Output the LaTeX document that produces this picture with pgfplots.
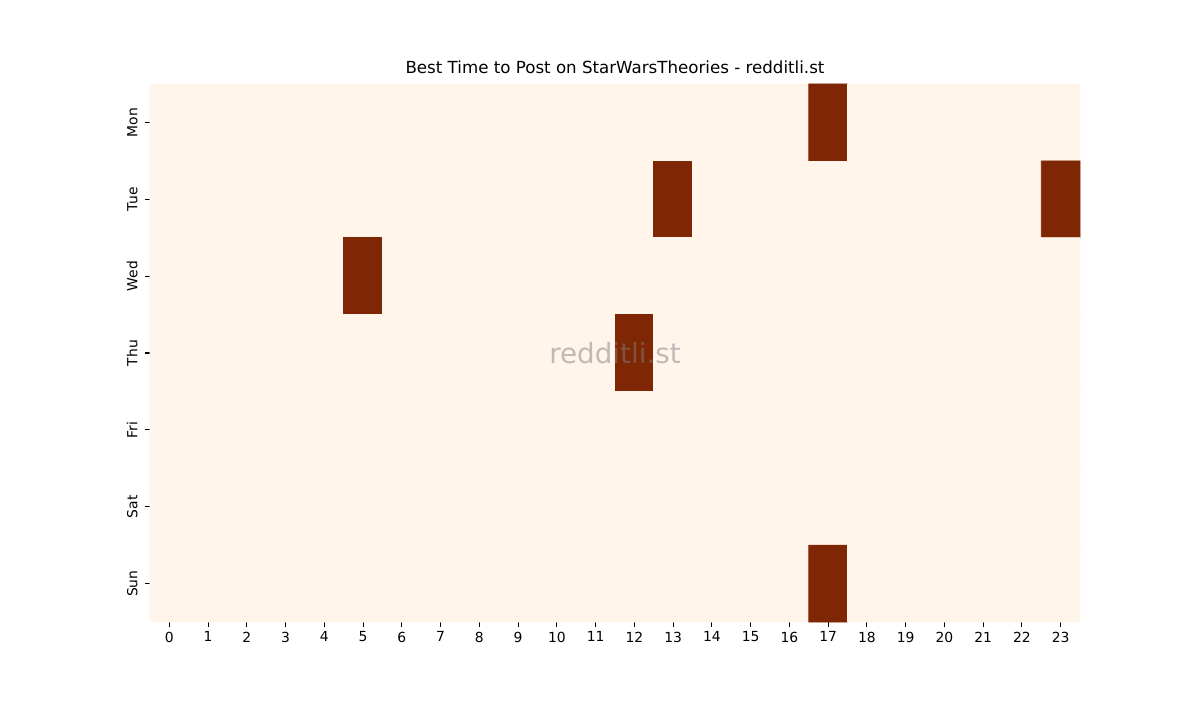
\documentclass[border=0pt]{standalone}
\usepackage{fontspec}
\setmainfont{DejaVu Sans}
\usepackage{pgfplots}
\pgfplotsset{compat=1.18}
\definecolor{lowc}{RGB}{255,245,235}
\definecolor{highc}{RGB}{127,39,4}
\begin{document}
\begin{tikzpicture}
\begin{axis}[
    name=ax,
    scale only axis,
    width=669.6pt, height=387.4pt,
    xmin=-0.5, xmax=23.5,
    ymin=-0.5, ymax=6.5,
    y dir=reverse,
    enlargelimits=false,
    axis line style={draw=none},
    tick align=outside,
    major tick length=3.5pt,
    tick style={black, line width=0.8pt},
    xtick={0,...,23},
    ytick={0,...,6},
    yticklabels={Mon,Tue,Wed,Thu,Fri,Sat,Sun},
    yticklabel style={rotate=90, anchor=south, yshift=2pt, font=\fontsize{10}{12}\selectfont},
    xticklabel style={font=\fontsize{10}{12}\selectfont},
    xtick pos=bottom, ytick pos=left,
    /pgf/number format/assume math mode=true,
    colormap={heat}{color=(lowc) color=(highc)},
    point meta min=0, point meta max=1,
    title={Best Time to Post on StarWarsTheories - redditli.st},
    title style={font=\fontsize{12}{14}\selectfont, yshift=-2pt},
    clip=false,
]
% 0 = quiet hour, 1 = best hour (rows Mon..Sun, columns 0..23)
\addplot[matrix plot*, mesh/cols=24, point meta=explicit] coordinates {
(0,0)[0] (1,0)[0] (2,0)[0] (3,0)[0] (4,0)[0] (5,0)[0] (6,0)[0] (7,0)[0] (8,0)[0] (9,0)[0] (10,0)[0] (11,0)[0] (12,0)[0] (13,0)[0] (14,0)[0] (15,0)[0] (16,0)[0] (17,0)[1] (18,0)[0] (19,0)[0] (20,0)[0] (21,0)[0] (22,0)[0] (23,0)[0]

(0,1)[0] (1,1)[0] (2,1)[0] (3,1)[0] (4,1)[0] (5,1)[0] (6,1)[0] (7,1)[0] (8,1)[0] (9,1)[0] (10,1)[0] (11,1)[0] (12,1)[0] (13,1)[1] (14,1)[0] (15,1)[0] (16,1)[0] (17,1)[0] (18,1)[0] (19,1)[0] (20,1)[0] (21,1)[0] (22,1)[0] (23,1)[1]

(0,2)[0] (1,2)[0] (2,2)[0] (3,2)[0] (4,2)[0] (5,2)[1] (6,2)[0] (7,2)[0] (8,2)[0] (9,2)[0] (10,2)[0] (11,2)[0] (12,2)[0] (13,2)[0] (14,2)[0] (15,2)[0] (16,2)[0] (17,2)[0] (18,2)[0] (19,2)[0] (20,2)[0] (21,2)[0] (22,2)[0] (23,2)[0]

(0,3)[0] (1,3)[0] (2,3)[0] (3,3)[0] (4,3)[0] (5,3)[0] (6,3)[0] (7,3)[0] (8,3)[0] (9,3)[0] (10,3)[0] (11,3)[0] (12,3)[1] (13,3)[0] (14,3)[0] (15,3)[0] (16,3)[0] (17,3)[0] (18,3)[0] (19,3)[0] (20,3)[0] (21,3)[0] (22,3)[0] (23,3)[0]

(0,4)[0] (1,4)[0] (2,4)[0] (3,4)[0] (4,4)[0] (5,4)[0] (6,4)[0] (7,4)[0] (8,4)[0] (9,4)[0] (10,4)[0] (11,4)[0] (12,4)[0] (13,4)[0] (14,4)[0] (15,4)[0] (16,4)[0] (17,4)[0] (18,4)[0] (19,4)[0] (20,4)[0] (21,4)[0] (22,4)[0] (23,4)[0]

(0,5)[0] (1,5)[0] (2,5)[0] (3,5)[0] (4,5)[0] (5,5)[0] (6,5)[0] (7,5)[0] (8,5)[0] (9,5)[0] (10,5)[0] (11,5)[0] (12,5)[0] (13,5)[0] (14,5)[0] (15,5)[0] (16,5)[0] (17,5)[0] (18,5)[0] (19,5)[0] (20,5)[0] (21,5)[0] (22,5)[0] (23,5)[0]

(0,6)[0] (1,6)[0] (2,6)[0] (3,6)[0] (4,6)[0] (5,6)[0] (6,6)[0] (7,6)[0] (8,6)[0] (9,6)[0] (10,6)[0] (11,6)[0] (12,6)[0] (13,6)[0] (14,6)[0] (15,6)[0] (16,6)[0] (17,6)[1] (18,6)[0] (19,6)[0] (20,6)[0] (21,6)[0] (22,6)[0] (23,6)[0]
};
\node[text=gray, text opacity=0.5, font=\fontsize{20}{24}\selectfont] at (rel axis cs:0.5,0.5) {redditli.st};
\end{axis}
\path ([xshift=-108pt,yshift=-56.16pt]ax.south west) rectangle ([xshift=86.4pt,yshift=60.48pt]ax.north east);
\end{tikzpicture}
\end{document}
